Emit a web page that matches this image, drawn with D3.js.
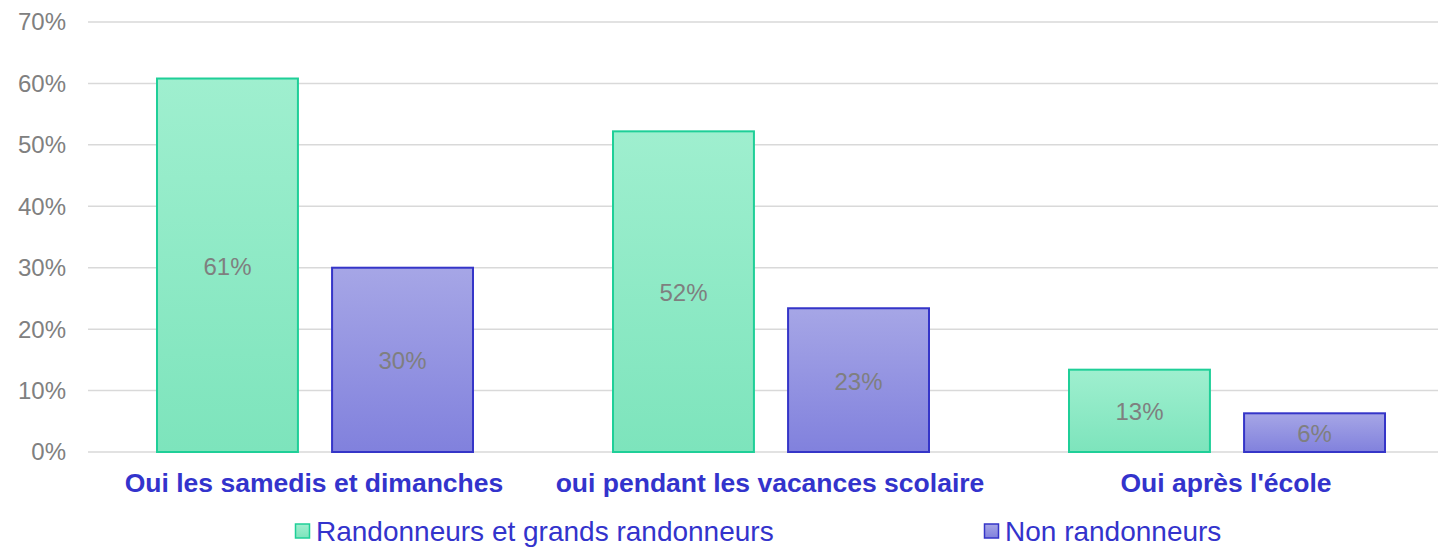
<!DOCTYPE html>
<html>
<head>
<meta charset="utf-8">
<script src="https://cdn.jsdelivr.net/npm/d3@7"></script>
<style>
  html, body { margin: 0; padding: 0; background: #fff; overflow: hidden; }
  svg { display: block; font-family: "Liberation Sans", Arial, sans-serif; }
</style>
</head>
<body>
<div id="chart"></div>
<script>
// données
const categories = ["Oui les samedis et dimanches", "oui pendant les vacances scolaire", "Oui après l'école"];
const seriesNames = ["Randonneurs et grands randonneurs", "Non randonneurs"];
const randonneurs = [60.8, 52.2, 13.4];
const nonRandonneurs = [30.0, 23.4, 6.3];
const yTicks = [0, 10, 20, 30, 40, 50, 60, 70];

const width = 1438, height = 547;
// la zone de tracé déborde un peu à droite (coupée dans l'original)
const margin = { top: 22, bottom: 95, left: 88 };
const plotRight = 1456;

const svg = d3.select("#chart").append("svg")
  .attr("width", width).attr("height", height)
  .attr("viewBox", `0 0 ${width} ${height}`);

const defs = svg.append("defs");
const styles = [
  { id: "gGreen", top: "#9fefcf", bottom: "#7de4bc", stroke: "#1fcf98" },
  { id: "gPurple", top: "#a6a6e6", bottom: "#8181dd", stroke: "#3535c8" }
];
styles.forEach(s => {
  const g = defs.append("linearGradient").attr("id", s.id)
    .attr("x1", 0).attr("y1", 0).attr("x2", 0).attr("y2", 1);
  g.append("stop").attr("offset", "0%").attr("stop-color", s.top);
  g.append("stop").attr("offset", "100%").attr("stop-color", s.bottom);
});

const x0 = d3.scaleBand().domain(categories)
  .range([margin.left, plotRight]).paddingInner(0).paddingOuter(0);
const x1 = d3.scaleBand().domain(seriesNames)
  .range([69, x0.bandwidth() - 71]).paddingInner(0.195);
const y = d3.scaleLinear().domain([0, 70]).range([height - margin.bottom, margin.top]);

// grille
svg.append("g").selectAll("line").data(yTicks).join("line")
  .attr("x1", margin.left).attr("x2", width)
  .attr("y1", d => y(d)).attr("y2", d => y(d))
  .attr("stroke", "#d9d9d9").attr("stroke-width", 1.5);

// axe y
svg.append("g").selectAll("text").data(yTicks).join("text")
  .attr("x", 66).attr("y", d => y(d)).attr("dy", "0.35em")
  .attr("text-anchor", "end").attr("fill", "#808080")
  .style("font-size", "24px").text(d => d + "%");

const rows = categories.map((c, i) => ({ cat: c, vals: [randonneurs[i], nonRandonneurs[i]] }));

const groups = svg.append("g").selectAll("g").data(rows).join("g")
  .attr("transform", d => `translate(${x0(d.cat)},0)`);

groups.selectAll("rect").data(d => d.vals.map((v, j) => ({ v, j }))).join("rect")
  .attr("x", d => x1(seriesNames[d.j]))
  .attr("width", x1.bandwidth())
  .attr("y", d => y(d.v))
  .attr("height", d => y(0) - y(d.v))
  .attr("fill", d => `url(#${styles[d.j].id})`)
  .attr("stroke", d => styles[d.j].stroke).attr("stroke-width", 2);

groups.selectAll("text.val").data(d => d.vals.map((v, j) => ({ v, j }))).join("text")
  .attr("class", "val")
  .attr("x", d => x1(seriesNames[d.j]) + x1.bandwidth() / 2)
  .attr("y", d => (y(d.v) + y(0)) / 2 + 1)
  .attr("dy", "0.35em").attr("text-anchor", "middle")
  .attr("fill", "#7f7f7f").style("font-size", "24px")
  .text(d => Math.round(d.v) + "%");

// axe x
svg.append("g").selectAll("text").data(categories).join("text")
  .attr("x", d => x0(d) + x0.bandwidth() / 2 - 2).attr("y", 483)
  .attr("dy", "0.35em").attr("text-anchor", "middle")
  .attr("fill", "#3333cc").style("font-size", "26.5px").style("font-weight", "bold")
  .text(d => d);

// légende
const legendX = [295, 984];
const legend = svg.append("g").selectAll("g").data(seriesNames).join("g")
  .attr("transform", (d, i) => `translate(${legendX[i]},531)`);
legend.append("rect").attr("x", 0.5).attr("y", -7).attr("width", 14).attr("height", 14)
  .attr("fill", (d, i) => `url(#${styles[i].id})`)
  .attr("stroke", (d, i) => styles[i].stroke).attr("stroke-width", 1.5);
legend.append("text").attr("x", 21).attr("y", 0).attr("dy", "0.35em")
  .attr("fill", "#3333cc").style("font-size", "28px").text(d => d);
</script>
</body>
</html>
